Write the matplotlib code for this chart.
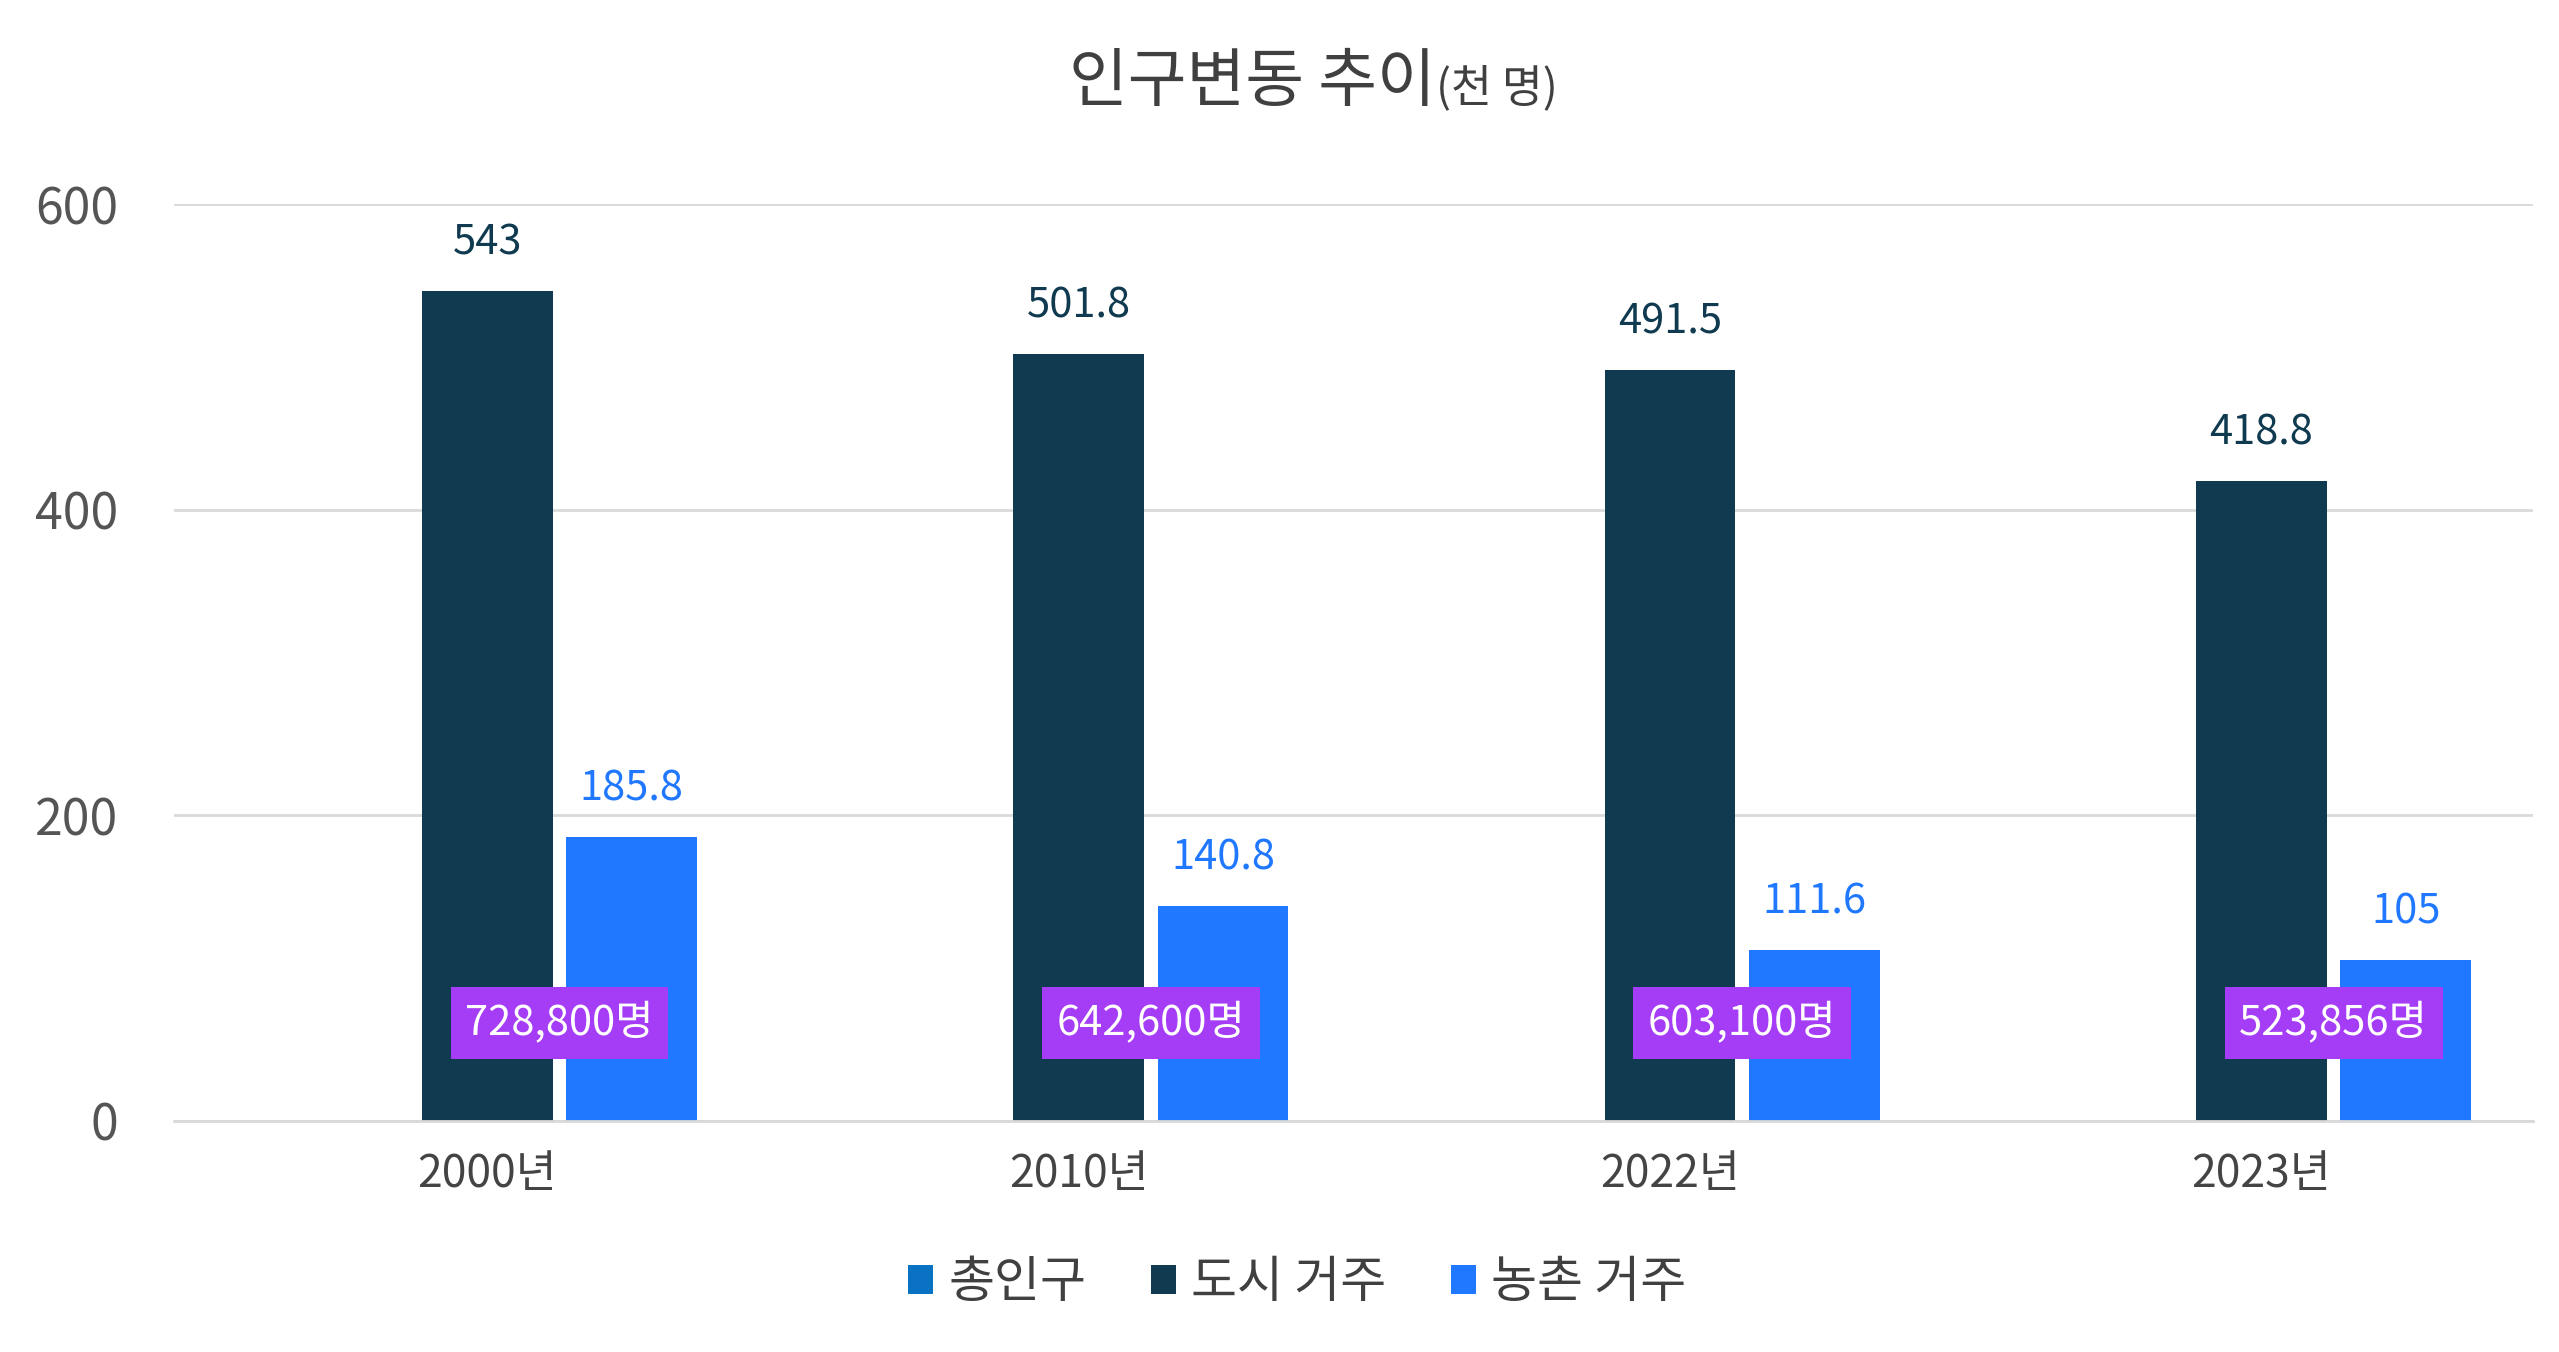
import matplotlib
matplotlib.use("Agg")
import matplotlib.pyplot as plt
import numpy as np

plt.rcParams["font.family"] = "Noto Sans CJK KR"

categories = ["2000년", "2010년", "2022년", "2023년"]
total_labels = ["728,800명", "642,600명", "603,100명", "523,856명"]
urban = [543, 501.8, 491.5, 418.8]
rural = [185.8, 140.8, 111.6, 105]
total = [0, 0, 0, 0]
series_names = ["총인구", "도시 거주", "농촌 거주"]

c_total, c_urban, c_rural, c_purple = "#0a72c2", "#0f3a4f", "#1f78ff", "#a43df5"

fig = plt.figure(figsize=(25.59, 13.52), dpi=100)
ax = fig.add_axes([0.068, 0.171, 0.922, 0.678])
x = np.arange(len(categories))
w, off = 0.221, 0.244
ax.bar(x - off, total, w, color=c_total, label=series_names[0])
ax.bar(x, urban, w, color=c_urban, label=series_names[1])
ax.bar(x + off, rural, w, color=c_rural, label=series_names[2])
for xi, v in zip(x, urban):
    ax.text(xi, v + 18, f"{v:g}", ha="center", va="bottom", fontsize=30, color=c_urban)
for xi, v in zip(x + off, rural):
    ax.text(xi, v + 18, f"{v:g}", ha="center", va="bottom", fontsize=30, color=c_rural)
for xi, t in zip(x + off / 2, total_labels):
    ax.text(xi, 64, t, ha="center", va="center", fontsize=30, color="white",
            bbox=dict(boxstyle="square,pad=0.35", fc=c_purple, ec="none"))

ax.set_xlim(-0.53, 3.46)
ax.set_ylim(0, 600)
ax.set_yticks([0, 200, 400, 600])
ax.set_xticks(x)
ax.set_xticklabels(categories)
ax.tick_params(axis="y", labelsize=36, colors="#555555", length=0, pad=40)
ax.tick_params(axis="x", labelsize=32, colors="#444444", length=0, pad=22)
ax.grid(axis="y", color="#d9d9d9", linewidth=2)
ax.set_axisbelow(True)
for s in ["top", "right", "left"]:
    ax.spines[s].set_visible(False)
ax.spines["bottom"].set_color("#d9d9d9")
ax.spines["bottom"].set_linewidth(2)

fig.text(0.561, 0.939, "인구변동 추이", ha="right", va="center", fontsize=46, color="#404040")
fig.text(0.561, 0.935, "(천 명)", ha="left", va="center", fontsize=32, color="#404040")
fig.legend(loc="center", bbox_to_anchor=(0.507, 0.051), ncol=3, frameon=False,
           fontsize=36, handlelength=0.5, handleheight=0.5, columnspacing=1.3,
           handletextpad=0.3, labelcolor="#404040")
fig.savefig("out.png", dpi=100)
